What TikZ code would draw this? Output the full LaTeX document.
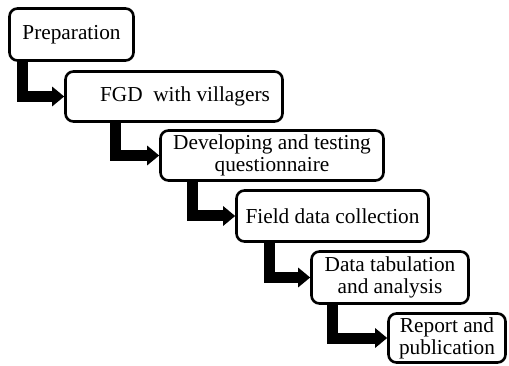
\documentclass[tikz,border=0pt]{standalone}
\usepackage{fontspec}
\setmainfont{Liberation Serif}
\usepackage{tikz}
\usetikzlibrary{positioning, arrows.meta}

\begin{document}
\begin{tikzpicture}[
		x=1pt, y=-1pt,
		every node/.style={font=\fontsize{21.3}{22}\selectfont},
		stage/.style={rectangle, draw, line width=2.6pt, rounded corners=8pt, align=center, inner sep=0pt},
		flow/.style={-{Triangle[width=19pt, length=12pt]}, line width=11pt}
		]
		\useasboundingbox (0,0) rectangle (509,366);
		
		% Stages of the study
		\node[stage, minimum width=124pt, minimum height=52pt] (prep) at (71.5,34.5) {Preparation};
		\node[stage, minimum width=217pt, minimum height=50pt] (fgd) at (174,96.5) {\hspace*{22pt}FGD\ \ with villagers};
		\node[stage, minimum width=223pt, minimum height=50pt] (quest) at (272,155.5) {Developing and testing\\ questionnaire};
		\node[stage, minimum width=192pt, minimum height=51pt] (field) at (332.5,216) {Field data collection};
		\node[stage, minimum width=157pt, minimum height=52pt] (tab) at (390,277.5) {Data tabulation\\ and analysis};
		\node[stage, minimum width=117pt, minimum height=49pt] (report) at (447,338) {Report and\\ publication};
		
		% Steps
		\draw[flow] ([xshift=14pt]prep.south west) |- (fgd.west);
		\draw[flow] ([xshift=51pt]fgd.south west) |- (quest.west);
		\draw[flow] ([xshift=33.5pt]quest.south west) |- (field.west);
		\draw[flow] ([xshift=34.5pt]field.south west) |- (tab.west);
		\draw[flow] ([xshift=22.5pt]tab.south west) |- (report.west);
		
	\end{tikzpicture}
\end{document}
